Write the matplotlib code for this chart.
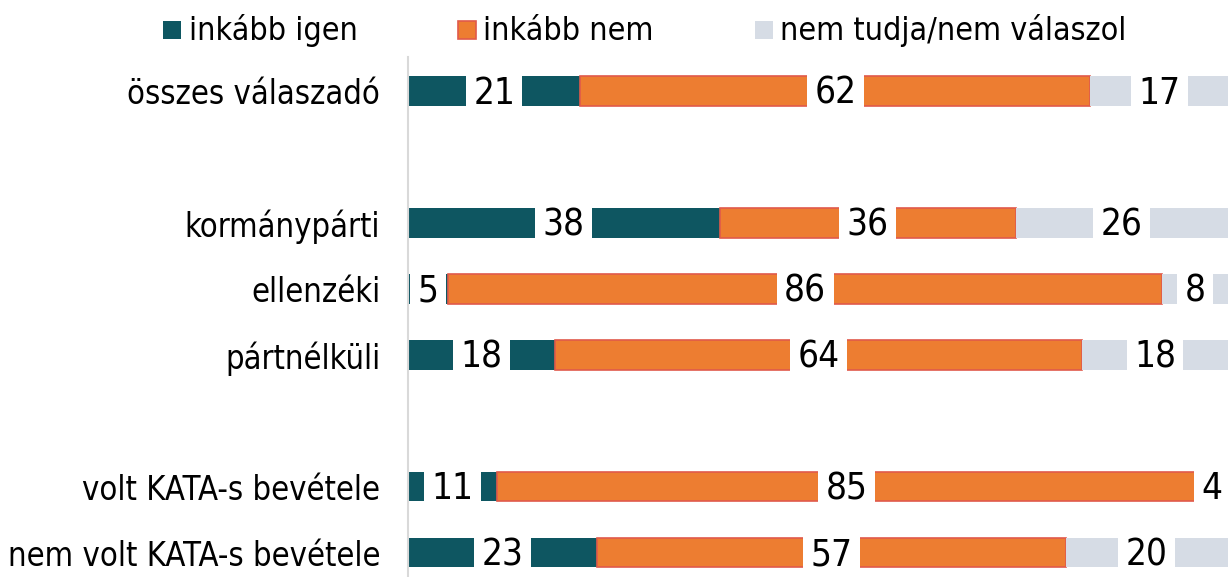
import matplotlib
matplotlib.use("Agg")
import matplotlib.pyplot as plt
from matplotlib import font_manager as fm
from matplotlib.patches import Rectangle

categories = ["összes válaszadó", "kormánypárti", "ellenzéki", "pártnélküli",
              "volt KATA-s bevétele", "nem volt KATA-s bevétele"]
rows = [0, 2, 3, 4, 6, 7]  # empty slots at 1 and 5 separate the groups

series = ["inkább igen", "inkább nem", "nem tudja/nem válaszol"]
igen = [21.0, 38.0, 4.9, 17.9, 10.9, 23.0]
nem = [62.2, 36.1, 87.1, 64.3, 85.1, 57.2]
nt = [16.8, 25.9, 8.0, 17.8, 4.0, 19.8]
igen_lbl = ["21", "38", "5", "18", "11", "23"]
nem_lbl = ["62", "36", "86", "64", "85", "57"]
nt_lbl = ["17", "26", "8", "18", "4", "20"]

colors = ["#0e5661", "#ed7d31", "#d6dce5"]
edges = ["none", "#e05a4b", "none"]

# Tahoma-like narrow face if it is there, else plain DejaVu a bit smaller
cond = "Condensed" in fm.findfont(fm.FontProperties(family="DejaVu Sans", stretch="condensed"))
stretch = "condensed" if cond else "normal"
k = 1.0 if cond else 0.9
fs_num, fs_cat, fs_leg = 26.5 * k, 23.5 * k, 23 * k
plt.rcParams["font.family"] = ["DejaVu Sans"]
plt.rcParams["font.stretch"] = stretch

W, H = 1228, 577
fig = plt.figure(figsize=(W / 100, H / 100), dpi=100)
ax = fig.add_axes([408 / W, 0, 820 / W, (H - 57) / H])

lefts = [0.0] * len(rows)
for vals, lbls, c, e in zip([igen, nem, nt], [igen_lbl, nem_lbl, nt_lbl], colors, edges):
    ax.barh(rows, vals, left=lefts, height=0.44, color=c, edgecolor=e,
            linewidth=1.2, zorder=2)
    for r, v, l0, lab in zip(rows, vals, lefts, lbls):
        ax.text(l0 + v / 2, r - 0.03, lab, ha="center", va="center_baseline",
                fontsize=fs_num, color="black", zorder=5,
                bbox=dict(boxstyle="square,pad=0.2", fc="white", ec="none"))
    lefts = [a + b for a, b in zip(lefts, vals)]

ax.set_xlim(0, 100)
ax.set_ylim(7.364, -0.515)
ax.set_yticks(rows)
ax.set_yticklabels(categories, fontsize=fs_cat)
ax.tick_params(axis="y", length=0, pad=20)
ax.set_xticks([])
for s in ["top", "right", "bottom"]:
    ax.spines[s].set_visible(False)
ax.spines["left"].set_color("#d9d9d9")
ax.spines["left"].set_linewidth(1.5)

# legend row along the top
sq_x = [163, 458, 755]
tx_x = [189, 483, 780]
for name, c, e, sx, tx in zip(series, colors, edges, sq_x, tx_x):
    fig.patches.append(Rectangle((sx / W, 1 - 39 / H), 18 / W, 18 / H,
                                 transform=fig.transFigure, fc=c,
                                 ec=e, lw=1.2))
    fig.text(tx / W, 1 - 40 / H, name, fontsize=fs_leg, va="baseline", ha="left")

fig.savefig("out.png", dpi=100, facecolor="white")
